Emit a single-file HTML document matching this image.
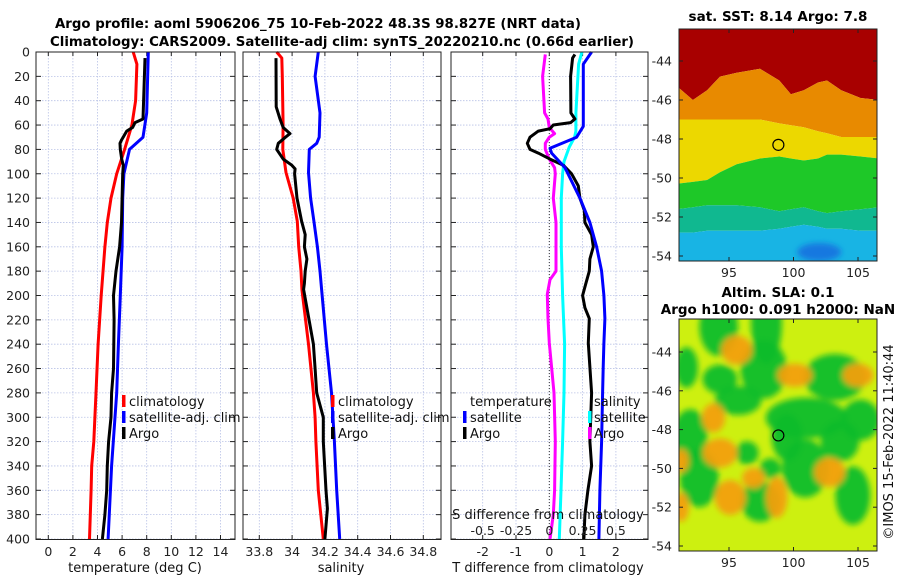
<!DOCTYPE html>
<html><head><meta charset="utf-8">
<style>
html,body{margin:0;padding:0;background:#fff;}
svg{display:block;font-family:"DejaVu Sans","Liberation Sans",sans-serif;}
.tk{font-size:12.5px;fill:#222;}
.tt{font-size:13.5px;font-weight:bold;fill:#000;}
.lg{font-size:13px;fill:#111;}
</style></head>
<body>
<svg id="fig" width="900" height="580" viewBox="0 0 900 580" xmlns="http://www.w3.org/2000/svg">
<defs>
<filter id="blur" x="-50%" y="-50%" width="200%" height="200%"><feGaussianBlur stdDeviation="3"/></filter>
<clipPath id="clipSst"><rect x="679" y="29" width="198" height="232"/></clipPath>
<clipPath id="clipSla"><rect x="679" y="319" width="198" height="232"/></clipPath>
</defs>
<text class="tt" x="318" y="28" text-anchor="middle" textLength="526" lengthAdjust="spacingAndGlyphs">Argo profile: aoml 5906206_75 10-Feb-2022 48.3S 98.827E (NRT data)</text>
<text class="tt" x="342" y="46" text-anchor="middle" textLength="584" lengthAdjust="spacingAndGlyphs">Climatology: CARS2009. Satellite-adj clim: synTS_20220210.nc (0.66d earlier)</text>
<g id="panels"></g>
<g id="maps"></g>
</svg>
<script>
// ---------- profile data ----------
const tClimDepth=[0,10,40,60,80,100,120,140,160,200,240,280,320,340,360,400];
const tClimVals=[6.9,7.2,7.1,6.8,6.2,5.56,5.1,4.8,4.6,4.3,4.05,3.88,3.7,3.53,3.48,3.35];
const tSatDepth=[0,50,70,80,100,120,160,200,240,280,340,400];
const tSatVals=[8.13,8.0,7.7,6.6,6.15,6.05,6.0,5.85,5.7,5.56,5.15,4.86];
const tArgoDepth=[5,55,58,62,65,72,75,80,88,93,100,120,140,160,180,200,220,260,280,300,320,340,360,380,400];
const tArgoVals=[7.86,7.7,7.05,6.85,6.37,5.97,5.83,5.85,5.97,6.1,6.05,6.0,5.95,5.8,5.5,5.3,5.35,5.3,5.15,5.1,4.9,4.8,4.75,4.6,4.4];

const sClimDepth=[0,5,20,60,80,99,120,139,160,180,195,240,280,300,320,360,400];
const sClimVals=[33.906,33.937,33.94,33.945,33.943,33.963,34.007,34.032,34.04,34.054,34.06,34.10,34.13,34.14,34.145,34.16,34.19];
const sSatDepth=[0,20,50,70,75,80,99,120,139,160,180,195,240,280,320,360,400];
const sSatVals=[34.16,34.14,34.17,34.165,34.15,34.105,34.10,34.113,34.133,34.154,34.17,34.18,34.21,34.24,34.258,34.272,34.29];
const sArgoDepth=[5,45,55,62,67,70,75,80,88,93,96,100,120,139,150,160,170,180,190,195,240,260,280,300,320,360,375,400];
const sArgoVals=[33.902,33.903,33.926,33.946,33.987,33.96,33.916,33.906,33.946,33.998,34.018,34.015,34.03,34.058,34.08,34.075,34.09,34.08,34.075,34.07,34.13,34.14,34.15,34.19,34.19,34.207,34.215,34.2];

const dTSatDepth=[0,10,50,61,70,79,83,95,120,140,160,180,200,219,239,259,280,320,360,400];
const dTSatVals=[1.27,1.02,1.02,1.02,0.82,0.02,0.07,0.47,0.92,1.22,1.42,1.57,1.64,1.67,1.64,1.62,1.6,1.57,1.52,1.49];
const dTArgoDepth=[2,5,20,50,55,58,60,63,65,70,75,80,83,88,93,100,110,120,130,140,150,160,170,180,190,200,210,219,239,259,280,320,340,360,380,400];
const dTArgoVals=[0.77,0.70,0.64,0.65,0.77,0.64,0.12,0.02,-0.33,-0.58,-0.66,-0.58,-0.33,0.02,0.42,0.67,0.87,0.92,1.05,1.07,1.27,1.32,1.22,1.2,1.1,1.0,1.07,1.2,1.17,1.22,1.27,1.22,1.27,1.16,1.07,1.04];
const dSSatDepth=[0,10,50,65,70,78,90,100,120,160,200,240,280,320,360,400];
const dSSatVals=[0.245,0.22,0.2,0.2,0.19,0.15,0.11,0.10,0.09,0.09,0.1,0.115,0.11,0.1,0.088,0.075];
const dSArgoDepth=[2,20,50,55,62,67,70,75,80,88,95,100,120,140,160,180,187,199,219,239,259,280,320,360,380,400];
const dSArgoVals=[-0.03,-0.05,-0.035,-0.01,0,0.04,0,-0.03,-0.03,0,0.04,0.045,0.03,0.05,0.05,0.05,0.005,-0.015,-0.01,0,0.017,0.035,0.045,0.04,0.03,0.005];

const depthTicks=[0,20,40,60,80,100,120,140,160,180,200,220,240,260,280,300,320,340,360,380,400];
const tempTicks=[0,2,4,6,8,10,12,14];
const salTicks=[33.8,34,34.2,34.4,34.6,34.8];
const salTickLabels=["33.8","34","34.2","34.4","34.6","34.8"];
const dTTicks=[-2,-1,0,1,2];
const dSTicks=[-0.5,-0.25,0,0.25,0.5];
const dSTickLabels=["-0.5","-0.25","0","0.25","0.5"];

// ---------- map data ----------
const sstLon=[91.1,92.2,93.3,94.3,95.6,97.4,98.9,99.8,100.8,101.9,102.6,103.7,105.2,106.6];
const sstRedEdge=[-45.3,-46.0,-45.5,-44.8,-44.6,-44.4,-45.0,-45.7,-45.5,-45.1,-45.0,-45.5,-45.9,-46.0];
const sstOrangeEdge=[-47.0,-47.0,-47.0,-47.0,-47.0,-47.0,-47.2,-47.3,-47.4,-47.6,-47.7,-47.9,-47.9,-47.9];
const sstYellowEdge=[-50.3,-50.2,-50.1,-49.7,-49.3,-49.0,-48.9,-49.0,-49.1,-49.0,-48.8,-48.8,-48.9,-49.0];
const sstGreenEdge=[-51.6,-51.5,-51.4,-51.4,-51.4,-51.5,-51.7,-51.6,-51.5,-51.7,-51.8,-51.7,-51.6,-51.5];
const sstTealEdge=[-52.8,-52.8,-52.7,-52.7,-52.7,-52.7,-52.6,-52.5,-52.4,-52.5,-52.6,-52.6,-52.7,-52.7];
const slaGreenLon=[94.2,97.9,97.7,94.3,91.7,95.7,103.2,101.0,105.2,92.0,92.7,100.9,97.4,104.6,96.4,98.2,103.6,99.5];
const slaGreenLat=[-42.7,-42.5,-44.9,-45.4,-44.8,-46.5,-45.3,-47.4,-47.5,-48.3,-50.5,-50.0,-51.7,-51.4,-49.2,-50.0,-48.6,-48.4];
const slaGreenRx=[1.0,0.8,1.2,0.9,0.6,1.2,1.6,2.1,1.0,0.9,1.0,1.2,1.0,0.9,0.6,0.55,1.0,0.8];
const slaGreenRy=[1.0,1.4,1.0,0.5,0.7,0.5,0.8,0.7,0.7,0.9,1.0,1.0,0.7,1.0,0.4,0.35,0.7,0.8];
const slaOrangeLon=[95.6,100.1,105.0,93.8,94.3,91.3,95.1,98.7,102.8,91.3,96.9];
const slaOrangeLat=[-43.9,-45.2,-45.2,-47.4,-49.2,-49.6,-51.5,-51.5,-50.2,-52.0,-50.5];
const slaOrangeRx=[0.8,0.9,0.8,0.6,0.9,0.4,0.8,0.55,0.8,0.4,0.6];
const slaOrangeRy=[0.5,0.4,0.4,0.5,0.5,0.4,0.6,0.7,0.5,0.5,0.35];
const argoLon=98.827, argoLat=-48.3;
const mapLatTicks=[-44,-46,-48,-50,-52,-54];
const mapLonTicks=[95,100,105];

const NS="http://www.w3.org/2000/svg";
function mk(tag,attrs,parent){const e=document.createElementNS(NS,tag);for(const k in attrs)e.setAttribute(k,attrs[k]);parent.appendChild(e);return e;}
const yD=d=>52+d*1.2175;
const xT=t=>48.3+t*12.3;
const xS=s=>259.3+(s-33.8)*164;
const xDT=v=>549.3+v*33.3;
const xDS=v=>549.3+v*133.2;
const panelsG=document.getElementById('panels');
const mapsG=document.getElementById('maps');

function linePath(depths,vals,xf){return depths.map((d,i)=>(i?'L':'M')+xf(vals[i]).toFixed(1)+' '+yD(d).toFixed(1)).join(' ');}

function panel(name,x0,x1,xticks,xlabels,xf,ylabels){
  const g=mk('g',{},panelsG);
  
  
  const gr=mk('g',{stroke:'#b9c2e6','stroke-width':'0.8','stroke-dasharray':'1.5,1.5'},g);
  
  
  xticks.forEach(v=>{const x=xf(v);mk('line',{x1:x,x2:x,y1:52,y2:539.5},gr);});
  depthTicks.forEach(d=>{mk('line',{x1:x0,x2:x1,y1:yD(d),y2:yD(d)},gr);});
  const tk=mk('g',{stroke:'#222','stroke-width':'1'},g);
  depthTicks.forEach(d=>{mk('line',{x1:x0,x2:x0+5,y1:yD(d),y2:yD(d)},tk);mk('line',{x1:x1-5,x2:x1,y1:yD(d),y2:yD(d)},tk);});
  xticks.forEach(v=>{const x=xf(v);mk('line',{x1:x,x2:x,y1:539.5,y2:535},tk);mk('line',{x1:x,x2:x,y1:52,y2:56},tk);});
  xticks.forEach((v,i)=>{const t=mk('text',{x:xf(v),y:556,'text-anchor':'middle',class:'tk'},g);t.textContent=xlabels[i];
    
    });
  if(ylabels){depthTicks.forEach(d=>{const t=mk('text',{x:30,y:yD(d)+4.5,'text-anchor':'end',class:'tk'},g);t.textContent=d;
    
    });}
  return g;
}
function series(g,name,depths,vals,xf,color){
  const p=mk('path',{d:linePath(depths,vals,xf),fill:'none',stroke:color,'stroke-width':'3','stroke-linejoin':'round'},g);
  
  
}
function box(g,x0,x1){const r=mk('rect',{x:x0,y:52,width:x1-x0,height:487.5,fill:'none',stroke:'#222','stroke-width':'1'},g);
  
  }
function txt(g,name,x,y,s,cls,anchor){const t=mk('text',{x:x,y:y,class:cls,'text-anchor':anchor||'start'},g);t.textContent=s;
  
  return t;}
function legBar(g,x,y,color){mk('rect',{x:x,y:y-11,width:3.5,height:12,fill:color},g);}

// Panel 1: temperature
const p1=panel('temperature-panel',36,235,tempTicks,tempTicks.map(String),xT,true);
series(p1,'temperature-climatology-line',tClimDepth,tClimVals,xT,'#ff0000');
series(p1,'temperature-satellite-line',tSatDepth,tSatVals,xT,'#0000ff');
series(p1,'temperature-argo-line',tArgoDepth,tArgoVals,xT,'#000000');
box(p1,36,235);
legBar(p1,122,406,'#ff0000');txt(p1,'legend-climatology',129,406,'climatology','lg');
legBar(p1,122,422,'#0000ff');txt(p1,'legend-satellite-adj-clim',129,422,'satellite-adj. clim','lg');
legBar(p1,122,438,'#000000');txt(p1,'legend-argo',129,438,'Argo','lg');
txt(p1,'x-axis-title-temperature',135,572,'temperature (deg C)','lg','middle');

// Panel 2: salinity
const p2=panel('salinity-panel',243,441,salTicks,salTickLabels,xS,false);
series(p2,'salinity-climatology-line',sClimDepth,sClimVals,xS,'#ff0000');
series(p2,'salinity-satellite-line',sSatDepth,sSatVals,xS,'#0000ff');
series(p2,'salinity-argo-line',sArgoDepth,sArgoVals,xS,'#000000');
box(p2,243,441);
legBar(p2,331,406,'#ff0000');txt(p2,'legend-climatology',338,406,'climatology','lg');
legBar(p2,331,422,'#0000ff');txt(p2,'legend-satellite-adj-clim',338,422,'satellite-adj. clim','lg');
legBar(p2,331,438,'#000000');txt(p2,'legend-argo',338,438,'Argo','lg');
txt(p2,'x-axis-title-salinity',341,572,'salinity','lg','middle');

// Panel 3: differences
const p3=panel('difference-panel',451,648,dTTicks,dTTicks.map(String),xDT,false);
const zl=mk('line',{x1:xDT(0),x2:xDT(0),y1:52,y2:539.5,stroke:'#333','stroke-width':'1','stroke-dasharray':'1,2'},p3);


series(p3,'salinity-argo-diff-line',dSArgoDepth,dSArgoVals,xDS,'#ff00ff');
series(p3,'salinity-satellite-diff-line',dSSatDepth,dSSatVals,xDS,'#00ffff');
series(p3,'temperature-argo-diff-line',dTArgoDepth,dTArgoVals,xDT,'#000000');
series(p3,'temperature-satellite-diff-line',dTSatDepth,dTSatVals,xDT,'#0000ff');
box(p3,451,648);
txt(p3,'legend-temperature-header',470,406,'temperature','lg');
txt(p3,'legend-salinity-header',594,406,'salinity','lg');
legBar(p3,463,422,'#0000ff');txt(p3,'legend-t-satellite',470,422,'satellite','lg');
legBar(p3,463,438,'#000000');txt(p3,'legend-t-argo',470,438,'Argo','lg');
legBar(p3,588,422,'#00ffff');txt(p3,'legend-s-satellite',594,422,'satellite','lg');
legBar(p3,588,438,'#ff00ff');txt(p3,'legend-s-argo',594,438,'Argo','lg');
txt(p3,'s-axis-title',548,519,'S difference from climatology','lg','middle');
dSTicks.forEach((v,i)=>{const t=mk('text',{x:xDS(v),y:535,'text-anchor':'middle',class:'tk'},p3);t.textContent=dSTickLabels[i];
  
  });
txt(p3,'x-axis-title-t-difference',548,572,'T difference from climatology','lg','middle');

// ---------- maps ----------
const mX=lon=>729+(lon-95)*12.9;
const sstY=lat=>61+(-44-lat)*19.5;
const slaY=lat=>352+(-44-lat)*19.4;
function mapAxes(g,yf,top,bottom,prefix){
  const tk=mk('g',{stroke:'#222','stroke-width':'1'},g);
  mapLatTicks.forEach(l=>{const y=yf(l);mk('line',{x1:679,x2:683,y1:y,y2:y},tk);mk('line',{x1:873,x2:877,y1:y,y2:y},tk);
    const t=mk('text',{x:672,y:y+4.5,'text-anchor':'end',class:'tk'},g);t.textContent=l;
    
    });
  mapLonTicks.forEach(l=>{const x=mX(l);mk('line',{x1:x,x2:x,y1:bottom,y2:bottom-4},tk);mk('line',{x1:x,x2:x,y1:top,y2:top+4},tk);
    const t=mk('text',{x:x,y:bottom+16,'text-anchor':'middle',class:'tk'},g);t.textContent=l;
    
    });
  const r=mk('rect',{x:679,y:top,width:198,height:bottom-top,fill:'none',stroke:'#222','stroke-width':'1'},g);
  
  
}
function band(g,upper,lower,color,name){
  let d='';
  sstLon.forEach((lon,i)=>{d+=(i?'L':'M')+(i==0?677:(i==sstLon.length-1?879:mX(lon))).toFixed(1)+' '+(upper?sstY(upper[i]):27).toFixed(1)+' ';});
  for(let i=sstLon.length-1;i>=0;i--){d+='L'+(i==0?677:(i==sstLon.length-1?879:mX(sstLon[i]))).toFixed(1)+' '+(lower?sstY(lower[i]):263).toFixed(1)+' ';}
  const p=mk('path',{d:d+'Z',fill:color},g);
  
  
}
// SST map
const sst=mk('g',{},mapsG);


const sstC=mk('g',{'clip-path':'url(#clipSst)'},sst);
band(sstC,null,sstRedEdge,'#a80000','sst-warm-band');
band(sstC,sstRedEdge,sstOrangeEdge,'#e88a00','sst-orange-band');
band(sstC,sstOrangeEdge,sstYellowEdge,'#ecd800','sst-yellow-band');
band(sstC,sstYellowEdge,sstGreenEdge,'#1ec828','sst-green-band');
band(sstC,sstGreenEdge,sstTealEdge,'#10b890','sst-teal-band');
band(sstC,sstTealEdge,null,'#18b4e4','sst-cyan-band');
const bl=mk('ellipse',{cx:mX(102),cy:sstY(-53.8),rx:22,ry:9,fill:'#1478e0',filter:'url(#blur)'},sstC);


mapAxes(sst,sstY,29,261,'sst');
const c1=mk('circle',{cx:mX(argoLon),cy:sstY(argoLat),r:5.5,fill:'none',stroke:'#000','stroke-width':'1.2'},sst);


txt(sst,'sst-map-title',778,21,'sat. SST: 8.14 Argo: 7.8','tt','middle');

// SLA map
const BLOB=1.5;
const sla=mk('g',{},mapsG);


const slaC=mk('g',{'clip-path':'url(#clipSla)'},sla);
mk('rect',{x:679,y:319,width:198,height:232,fill:'#cdf010'},slaC);
const blobs=mk('g',{filter:'url(#blur)'},slaC);
slaGreenLon.forEach((lon,i)=>{const e=mk('ellipse',{cx:mX(lon),cy:slaY(slaGreenLat[i]),rx:slaGreenRx[i]*12.9*BLOB,ry:slaGreenRy[i]*19.4*BLOB,fill:'#10bd2c','fill-opacity':'0.95'},blobs);
  
  });
slaOrangeLon.forEach((lon,i)=>{const e=mk('ellipse',{cx:mX(lon),cy:slaY(slaOrangeLat[i]),rx:slaOrangeRx[i]*12.9*BLOB,ry:slaOrangeRy[i]*19.4*BLOB,fill:'#f2a010','fill-opacity':'0.95'},blobs);
  
  });
mapAxes(sla,slaY,319,551,'sla');
const c2=mk('circle',{cx:mX(argoLon),cy:slaY(argoLat),r:5.5,fill:'none',stroke:'#000','stroke-width':'1.2'},sla);


txt(sla,'sla-map-title',778,297,'Altim. SLA: 0.1','tt','middle');
txt(sla,'sla-map-subtitle',778,314,'Argo h1000: 0.091 h2000: NaN','tt','middle');
const cr=txt(sla,'imos-credit',0,0,'©IMOS 15-Feb-2022 11:40:44','lg','middle');
cr.setAttribute('transform','translate(893,442) rotate(-90)');
</script>
</body></html>
